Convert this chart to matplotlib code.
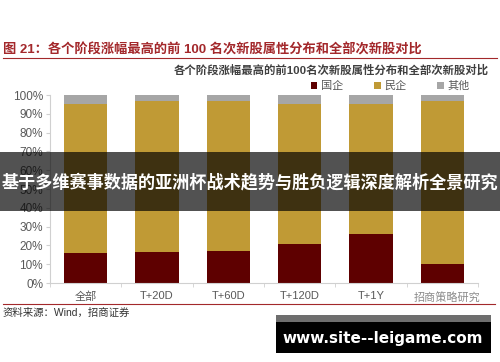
import matplotlib
matplotlib.use("Agg")
import matplotlib.pyplot as plt
from matplotlib.patches import Rectangle
import numpy as np

plt.rcParams['font.family'] = ['Liberation Sans', 'Noto Sans CJK SC', 'DejaVu Sans']

# 数据
categories = ["全部", "T+20D", "T+60D", "T+120D", "T+1Y", ""]
state = [15.8, 16.7, 16.8, 21.0, 25.8, 9.9]        # 国企
private = [79.4, 80.1, 79.9, 74.2, 69.4, 87.1]     # 民企
other = [4.8, 3.2, 3.3, 4.8, 4.8, 3.0]             # 其他
series_names = ["国企", "民企", "其他"]
colors = ["#5E0000", "#C09A35", "#A6A6A6"]

W, H = 500, 362
fig = plt.figure(figsize=(W / 100, H / 100), dpi=100)
fig.patch.set_facecolor("white")

def fx(px): return px / W
def fy(py): return 1 - py / H

ax = fig.add_axes([fx(50), fy(283), fx(478) - fx(50), fy(95) - fy(283)])
x = np.arange(len(categories))
bw = 0.61
ax.bar(x, state, bw, color=colors[0], label=series_names[0])
ax.bar(x, private, bw, bottom=state, color=colors[1], label=series_names[1])
ax.bar(x, other, bw, bottom=np.add(state, private), color=colors[2], label=series_names[2])

ax.set_xlim(-0.5, len(categories) - 0.5)
ax.set_ylim(0, 100)
ax.set_yticks(range(0, 101, 10))
ax.set_yticklabels([f"{v}%" for v in range(0, 101, 10)], fontsize=8.5, color="#595959")
ax.set_xticks(x)
ax.set_xticklabels(categories, fontsize=8, color="#595959")
ax.set_xticks(np.arange(-0.5, len(categories)), minor=True)
ax.tick_params(axis="x", which="major", length=0, pad=6)
ax.tick_params(axis="x", which="minor", length=3, color="#D0D0D0")
ax.tick_params(axis="y", length=3, color="#D0D0D0", pad=2)
for s in ("top", "right"):
    ax.spines[s].set_visible(False)
for s in ("left", "bottom"):
    ax.spines[s].set_color("#D0D0D0")
    ax.spines[s].set_linewidth(0.8)

# 图例
ax.legend(loc="center", bbox_to_anchor=(fx(390), fy(86)), bbox_transform=fig.transFigure,
          ncol=3, frameon=False, fontsize=8, handlelength=0.6, handleheight=0.6,
          handletextpad=0.3, columnspacing=2.8, labelcolor="#595959")

# 标题
fig.text(fx(3), fy(50), "图 21：各个阶段涨幅最高的前 100 名次新股属性分布和全部次新股对比",
         fontsize=9.5, fontweight="bold", color="#A3282B", va="center", ha="left")
fig.add_artist(plt.Line2D([fx(3), fx(497)], [fy(58), fy(58)], color="#A3282B", lw=0.8))
fig.text(fx(489), fy(70), "各个阶段涨幅最高的前100名次新股属性分布和全部次新股对比",
         fontsize=8.2, fontweight="bold", color="#404040", va="center", ha="right")

# 底部
fig.add_artist(plt.Line2D([fx(3), fx(495)], [fy(304), fy(304)], color="#A3282B", lw=0.8))
fig.text(fx(3), fy(313), "资料来源：Wind，招商证券", fontsize=7.5, color="#333333",
         va="center", ha="left")
fig.text(fx(414), fy(297), "招商策略研究", fontsize=8, color="#8C8C8C",
         va="center", ha="left")

# 覆盖横条
fig.patches.append(Rectangle((0, fy(211)), 1, fy(152) - fy(211), transform=fig.transFigure,
                             facecolor="black", alpha=0.68, edgecolor="none", zorder=5))
fig.text(0.5, fy(182), "基于多维赛事数据的亚洲杯战术趋势与胜负逻辑深度解析全景研究",
         fontsize=12.3, fontweight="bold", color="white", va="center", ha="center", zorder=6)

# 网址框
fig.patches.append(Rectangle((fx(276), fy(353)), fx(491) - fx(276), fy(315) - fy(353),
                             transform=fig.transFigure, facecolor="black", edgecolor="none", zorder=5))
fig.patches.append(Rectangle((fx(276), fy(322)), fx(491) - fx(276), fy(315) - fy(322),
                             transform=fig.transFigure, facecolor="#6E6E6E", edgecolor="none", zorder=6))
fig.text(fx(383), fy(338), "www.site--leigame.com", fontsize=11, fontweight="bold",
         color="white", va="center", ha="center", family=["DejaVu Sans"], zorder=7)

fig.savefig("out.png", dpi=100)
